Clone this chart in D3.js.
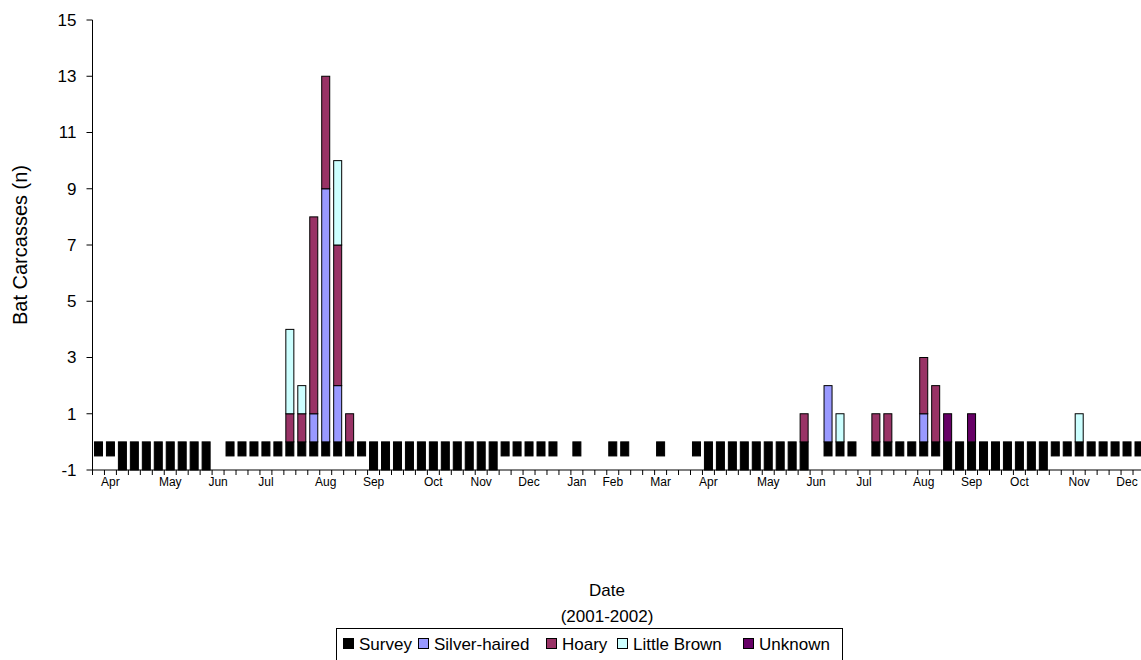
<!DOCTYPE html>
<html>
<head>
<meta charset="utf-8">
<script src="https://cdn.jsdelivr.net/npm/d3@7"></script>
<style>
  body { margin: 0; background: #fff; }
  svg { display: block; font-family: Arial, "Liberation Sans", sans-serif; }
</style>
</head>
<body>
<svg id="chart" width="1141" height="660"></svg>
<script>
// weekly survey periods, Apr 2001 - Dec 2002 (88 weeks)
const survey = [
  -0.5, -0.5, -1, -1, -1, -1, -1, -1, -1, -1,
  0, -0.5, -0.5, -0.5, -0.5, -0.5, -0.5, -0.5, -0.5, -0.5,
  -0.5, -0.5, -0.5, -1, -1, -1, -1, -1, -1, -1,
  -1, -1, -1, -1, -0.5, -0.5, -0.5, -0.5, -0.5, 0,
  -0.5, 0, 0, -0.5, -0.5, 0, 0, -0.5, 0, 0,
  -0.5, -1, -1, -1, -1, -1, -1, -1, -1, -1,
  0, -0.5, -0.5, -0.5, 0, -0.5, -0.5, -0.5, -0.5, -0.5,
  -0.5, -1, -1, -1, -1, -1, -1, -1, -1, -1,
  -0.5, -0.5, -0.5, -0.5, -0.5, -0.5, -0.5, -0.5
];
const silverHaired = [
  0, 0, 0, 0, 0, 0, 0, 0, 0, 0,
  0, 0, 0, 0, 0, 0, 0, 0, 1, 9,
  2, 0, 0, 0, 0, 0, 0, 0, 0, 0,
  0, 0, 0, 0, 0, 0, 0, 0, 0, 0,
  0, 0, 0, 0, 0, 0, 0, 0, 0, 0,
  0, 0, 0, 0, 0, 0, 0, 0, 0, 0,
  0, 2, 0, 0, 0, 0, 0, 0, 0, 1,
  0, 0, 0, 0, 0, 0, 0, 0, 0, 0,
  0, 0, 0, 0, 0, 0, 0, 0
];
const hoary = [
  0, 0, 0, 0, 0, 0, 0, 0, 0, 0,
  0, 0, 0, 0, 0, 0, 1, 1, 7, 4,
  5, 1, 0, 0, 0, 0, 0, 0, 0, 0,
  0, 0, 0, 0, 0, 0, 0, 0, 0, 0,
  0, 0, 0, 0, 0, 0, 0, 0, 0, 0,
  0, 0, 0, 0, 0, 0, 0, 0, 0, 1,
  0, 0, 0, 0, 0, 1, 1, 0, 0, 2,
  2, 0, 0, 0, 0, 0, 0, 0, 0, 0,
  0, 0, 0, 0, 0, 0, 0, 0
];
const littleBrown = [
  0, 0, 0, 0, 0, 0, 0, 0, 0, 0,
  0, 0, 0, 0, 0, 0, 3, 1, 0, 0,
  3, 0, 0, 0, 0, 0, 0, 0, 0, 0,
  0, 0, 0, 0, 0, 0, 0, 0, 0, 0,
  0, 0, 0, 0, 0, 0, 0, 0, 0, 0,
  0, 0, 0, 0, 0, 0, 0, 0, 0, 0,
  0, 0, 1, 0, 0, 0, 0, 0, 0, 0,
  0, 0, 0, 0, 0, 0, 0, 0, 0, 0,
  0, 0, 1, 0, 0, 0, 0, 0
];
const unknown = [
  0, 0, 0, 0, 0, 0, 0, 0, 0, 0,
  0, 0, 0, 0, 0, 0, 0, 0, 0, 0,
  0, 0, 0, 0, 0, 0, 0, 0, 0, 0,
  0, 0, 0, 0, 0, 0, 0, 0, 0, 0,
  0, 0, 0, 0, 0, 0, 0, 0, 0, 0,
  0, 0, 0, 0, 0, 0, 0, 0, 0, 0,
  0, 0, 0, 0, 0, 0, 0, 0, 0, 0,
  0, 1, 0, 1, 0, 0, 0, 0, 0, 0,
  0, 0, 0, 0, 0, 0, 0, 0
];

// month labels sit under these weeks
const monthWeeks = [1, 6, 10, 14, 19, 23, 28, 32, 36, 40, 43, 47, 51, 56, 60, 64, 69, 73, 77, 82, 86];
const monthNames = ["Apr", "May", "Jun", "Jul", "Aug", "Sep", "Oct", "Nov", "Dec", "Jan", "Feb",
  "Mar", "Apr", "May", "Jun", "Jul", "Aug", "Sep", "Oct", "Nov", "Dec"];
const yTicks = [-1, 1, 3, 5, 7, 9, 11, 13, 15];

const seriesNames = ["Survey", "Silver-haired", "Hoary", "Little Brown", "Unknown"];
const colors = {
  "Survey": "#000000",
  "Silver-haired": "#9999ff",
  "Hoary": "#993366",
  "Little Brown": "#ccffff",
  "Unknown": "#660066",
};

const weeks = d3.range(survey.length);
const rows = weeks.map(i => ({
  week: i,
  "Silver-haired": silverHaired[i],
  "Hoary": hoary[i],
  "Little Brown": littleBrown[i],
  "Unknown": unknown[i],
}));

const svg = d3.select("#chart");
const plotLeft = 92.5, plotTop = 20, plotBottom = 470;
const step = 11.96;

const x = d3.scaleBand()
  .domain(weeks)
  .range([plotLeft, plotLeft + step * weeks.length])
  .paddingInner(0.33)
  .paddingOuter(0.165);
const y = d3.scaleLinear().domain([-1, 15]).range([plotBottom, plotTop]);

// survey bars hang below zero
svg.append("g")
  .attr("id", "survey")
  .selectAll("rect")
  .data(weeks.filter(i => survey[i] !== 0))
  .join("rect")
  .attr("x", i => x(i))
  .attr("width", x.bandwidth())
  .attr("y", y(0))
  .attr("height", i => y(survey[i]) - y(0))
  .attr("fill", colors["Survey"])
  .attr("stroke", "#000")
  .attr("stroke-width", 1);

// species stacked above zero
const stack = d3.stack().keys(seriesNames.slice(1));
const layers = stack(rows);

svg.append("g")
  .attr("id", "species")
  .selectAll("g")
  .data(layers)
  .join("g")
  .attr("fill", d => colors[d.key])
  .selectAll("rect")
  .data(d => d.filter(s => s[1] > s[0]))
  .join("rect")
  .attr("x", d => x(d.data.week))
  .attr("width", x.bandwidth())
  .attr("y", d => y(d[1]))
  .attr("height", d => y(d[0]) - y(d[1]))
  .attr("stroke", "#000")
  .attr("stroke-width", 1);

// y axis
const yAxis = svg.append("g").attr("id", "y-axis");
yAxis.append("line")
  .attr("x1", plotLeft).attr("x2", plotLeft)
  .attr("y1", y(15)).attr("y2", y(-1))
  .attr("stroke", "#000");
yAxis.selectAll("line.tick")
  .data(yTicks)
  .join("line")
  .attr("class", "tick")
  .attr("x1", plotLeft - 6).attr("x2", plotLeft)
  .attr("y1", d => y(d)).attr("y2", d => y(d))
  .attr("stroke", "#000");
yAxis.selectAll("text")
  .data(yTicks)
  .join("text")
  .attr("x", plotLeft - 16)
  .attr("y", d => y(d))
  .attr("dy", "0.35em")
  .attr("text-anchor", "end")
  .attr("font-size", 17)
  .text(d => d);

// x axis
const xAxis = svg.append("g").attr("id", "x-axis");
xAxis.append("line")
  .attr("x1", plotLeft).attr("x2", plotLeft + step * weeks.length)
  .attr("y1", plotBottom).attr("y2", plotBottom)
  .attr("stroke", "#000");
xAxis.selectAll("line.tick")
  .data(d3.range(weeks.length + 1))
  .join("line")
  .attr("class", "tick")
  .attr("x1", i => plotLeft + x.step() * i).attr("x2", i => plotLeft + x.step() * i)
  .attr("y1", plotBottom).attr("y2", plotBottom + 5)
  .attr("stroke", "#000");
xAxis.selectAll("text")
  .data(monthWeeks)
  .join("text")
  .attr("x", w => x(w) + x.bandwidth() / 2)
  .attr("y", plotBottom + 16)
  .attr("text-anchor", "middle")
  .attr("font-size", 12)
  .text((w, i) => monthNames[i]);

// titles
svg.append("text")
  .attr("transform", `translate(27,${(plotTop + plotBottom) / 2}) rotate(-90)`)
  .attr("text-anchor", "middle")
  .attr("font-size", 20)
  .text("Bat Carcasses (n)");
svg.append("text")
  .attr("x", 607).attr("y", 596)
  .attr("text-anchor", "middle")
  .attr("font-size", 17)
  .text("Date");
svg.append("text")
  .attr("x", 607).attr("y", 622)
  .attr("text-anchor", "middle")
  .attr("font-size", 17)
  .text("(2001-2002)");

// legend
const legend = svg.append("g").attr("id", "legend");
legend.append("rect")
  .attr("x", 336.5).attr("y", 628.5)
  .attr("width", 506).attr("height", 40)
  .attr("fill", "none").attr("stroke", "#000");
const legendX = [343, 418, 546, 617, 743];
const item = legend.selectAll("g.item")
  .data(seriesNames)
  .join("g")
  .attr("class", "item")
  .attr("transform", (d, i) => `translate(${legendX[i]},0)`);
item.append("rect")
  .attr("x", 0.5).attr("y", 638.5)
  .attr("width", 10).attr("height", 10)
  .attr("fill", d => colors[d])
  .attr("stroke", "#000");
item.append("text")
  .attr("x", 16).attr("y", 650)
  .attr("font-size", 17)
  .text(d => d);
</script>
</body>
</html>
